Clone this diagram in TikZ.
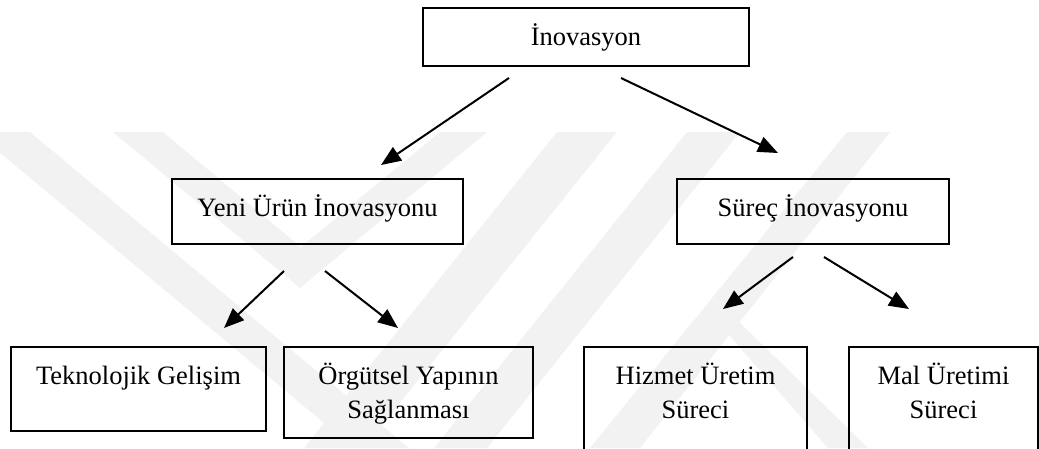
\documentclass[tikz,border=0pt]{standalone}
\usepackage{fontspec}
\setmainfont{Liberation Serif}
\usetikzlibrary{arrows.meta}
\newcommand\boxfont{\fontsize{26.5}{34}\selectfont}
\tikzset{
  box/.style={draw, line width=2pt, inner sep=0pt, anchor=north,
    text height=37pt, font=\boxfont},
  link/.style={line width=2pt,
    -{Triangle[length=20pt,width=16pt]}},
  mark band/.style={fill=black!5, draw=none}
}
\begin{document}
\begin{tikzpicture}[x=1pt,y=-1pt]
  \useasboundingbox (0,0) rectangle (1039,448);
  \clip (0,0) rectangle (1039,448);
  % faint background emblem
  \fill[mark band] (-25,132) -- (30,132) -- (409,448) -- (354,448) -- cycle;
  \fill[mark band] (113,132) -- (163,132) -- (301,247) -- (440,132)
                   -- (487,132) -- (300,288) -- cycle;
  \fill[mark band] (557,132) -- (617,132) -- (364,448) -- (304,448) -- cycle;
  \fill[mark band] (687,132) -- (740,132) -- (487,448) -- (434,448) -- cycle;
  \fill[mark band] (847,132) -- (890,132) -- (640,448) -- (590,448) -- cycle;
  \fill[mark band] (707,310) -- (727,310) -- (868,448) -- (828,448) -- cycle;
  % boxes
  \node[box, minimum width=326pt, text depth=21pt] (inov) at (586,7) {İnovasyon};
  \node[box, minimum width=291pt, text depth=28pt] (yeni) at (317.5,178) {Yeni Ürün İnovasyonu};
  \node[box, minimum width=272pt, text depth=28pt] (surec) at (813,178) {Süreç İnovasyonu};
  \node[box, minimum width=255pt, text depth=47pt] (tek) at (138.5,346) {Teknolojik Gelişim};
  \node[box, minimum width=249pt, text depth=54pt] (org) at (408.5,346)
    {\begin{tabular}[t]{@{}c@{}}Örgütsel Yapının\\Sağlanması\end{tabular}};
  \node[box, minimum width=223pt, text depth=75pt] (hiz) at (695.5,346)
    {\begin{tabular}[t]{@{}c@{}}Hizmet Üretim\\Süreci\end{tabular}};
  \node[box, minimum width=189pt, text depth=75pt] (mal) at (943.5,346)
    {\begin{tabular}[t]{@{}c@{}}Mal Üretimi\\Süreci\end{tabular}};
  % connector ends
  \coordinate (a1s) at (509,78);  \coordinate (a1e) at (381,165);
  \coordinate (a2s) at (621,78);  \coordinate (a2e) at (778,153);
  \coordinate (a3s) at (284,271); \coordinate (a3e) at (224,328);
  \coordinate (a4s) at (325,271); \coordinate (a4e) at (398,328);
  \coordinate (a5s) at (793,257); \coordinate (a5e) at (723,309);
  \coordinate (a6s) at (824,257); \coordinate (a6e) at (909,309);
  \draw[link] (a1s) -- (a1e);
  \draw[link] (a2s) -- (a2e);
  \draw[link] (a3s) -- (a3e);
  \draw[link] (a4s) -- (a4e);
  \draw[link] (a5s) -- (a5e);
  \draw[link] (a6s) -- (a6e);
\end{tikzpicture}
\end{document}
